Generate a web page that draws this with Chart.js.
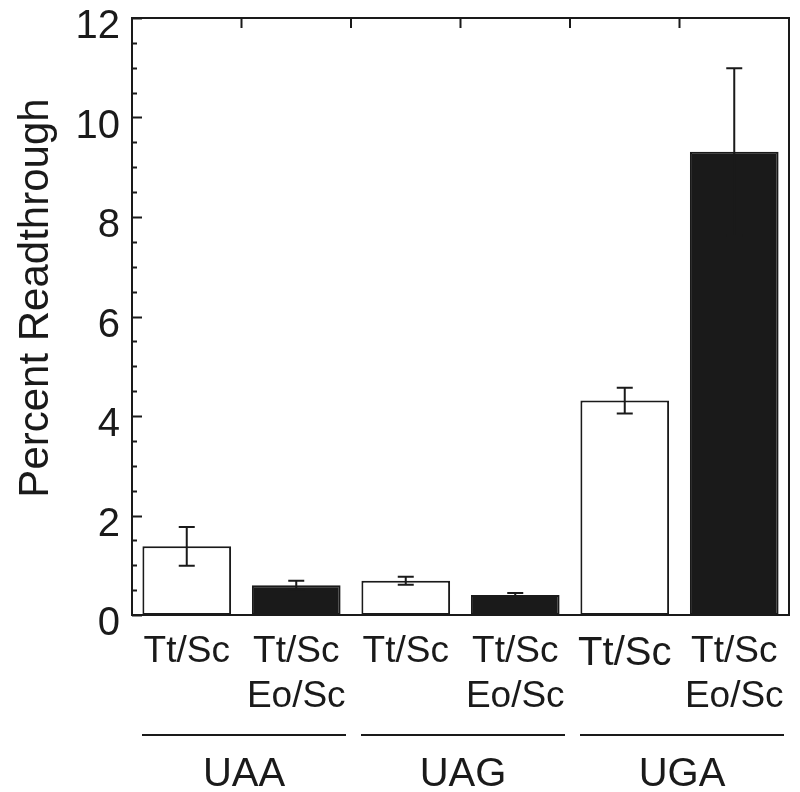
<!DOCTYPE html>
<html>
<head>
<meta charset="utf-8">
<script src="https://cdn.jsdelivr.net/npm/chart.js@4.4.1/dist/chart.umd.min.js"></script>
<style>
  html, body { margin: 0; padding: 0; background: #fff; }
  #wrap { width: 800px; height: 792px; position: relative; }
</style>
</head>
<body>
<div id="wrap"><canvas id="readthroughChart"></canvas></div>
<script>
// Percent readthrough per stop codon, Tt/Sc vs Tt/Sc Eo/Sc
const categories = [['Tt/Sc'], ['Tt/Sc', 'Eo/Sc'], ['Tt/Sc'], ['Tt/Sc', 'Eo/Sc'], ['Tt/Sc'], ['Tt/Sc', 'Eo/Sc']];
const readthrough = [1.38, 0.60, 0.69, 0.40, 4.31, 9.31];
const errorHigh = [0.39, 0.09, 0.08, 0.04, 0.26, 1.68];
const errorLow = [0.39, 0.09, 0.08, 0.04, 0.26, 1.68];
const barFill = ['#ffffff', '#1a1a1a', '#ffffff', '#1a1a1a', '#ffffff', '#1a1a1a'];
const codonGroups = ['UAA', 'UAG', 'UGA'];
const yTicks = [0, 2, 4, 6, 8, 10, 12];
const yTitle = 'Percent Readthrough';

const fontFamily = '"Liberation Sans", Arial, Helvetica, sans-serif';

// frame, inward ticks, error bars, axis title and codon group labels
const decorations = {
  id: 'decorations',
  afterDatasetsDraw(chart) {
    const ctx = chart.ctx;
    const area = chart.chartArea;
    const x = chart.scales.x;
    const y = chart.scales.y;
    ctx.save();
    ctx.strokeStyle = '#1a1a1a';
    ctx.fillStyle = '#1a1a1a';
    ctx.lineWidth = 2;

    // error bars
    readthrough.forEach((v, i) => {
      const cx = x.getPixelForValue(i);
      const top = y.getPixelForValue(v + errorHigh[i]);
      const bot = y.getPixelForValue(v - errorLow[i]);
      ctx.beginPath();
      ctx.moveTo(cx, top); ctx.lineTo(cx, bot);
      ctx.moveTo(cx - 8, top); ctx.lineTo(cx + 8, top);
      ctx.moveTo(cx - 8, bot); ctx.lineTo(cx + 8, bot);
      ctx.stroke();
    });

    // frame
    ctx.strokeRect(area.left, area.top, area.right - area.left, area.bottom - area.top);

    // y ticks, inward: majors and half-unit minors
    ctx.beginPath();
    for (let t = y.min; t <= y.max + 1e-9; t += 0.5) {
      const py = Math.round(y.getPixelForValue(t)) + 0.5;
      const major = yTicks.includes(t);
      ctx.moveTo(area.left, py);
      ctx.lineTo(area.left + (major ? 10 : 5), py);
    }
    // top ticks at category boundaries
    for (let i = 0; i < categories.length - 1; i++) {
      const px = (x.getPixelForValue(i) + x.getPixelForValue(i + 1)) / 2;
      ctx.moveTo(px, area.top);
      ctx.lineTo(px, area.top + 10);
    }
    ctx.stroke();

    // y axis title
    ctx.save();
    ctx.font = '42px ' + fontFamily;
    ctx.textAlign = 'center';
    ctx.textBaseline = 'alphabetic';
    ctx.translate(48, 298);
    ctx.rotate(-Math.PI / 2);
    ctx.fillText(yTitle, 0, 0);
    ctx.restore();

    // codon group underlines and names
    ctx.font = '40px ' + fontFamily;
    ctx.textAlign = 'center';
    ctx.textBaseline = 'middle';
    const step = x.getPixelForValue(1) - x.getPixelForValue(0);
    codonGroups.forEach((g, k) => {
      const left = x.getPixelForValue(2 * k) - step / 2 + 10;
      const right = x.getPixelForValue(2 * k + 1) + step / 2 - 5;
      ctx.beginPath();
      ctx.moveTo(left, 735);
      ctx.lineTo(right, 735);
      ctx.stroke();
      ctx.fillText(g, (left + right) / 2, 775);
    });
    ctx.restore();
  }
};

const ctx = document.getElementById('readthroughChart').getContext('2d');
new Chart(ctx, {
  type: 'bar',
  data: {
    labels: categories,
    datasets: [{
      data: readthrough,
      backgroundColor: barFill,
      borderColor: '#1a1a1a',
      borderWidth: 2,
      borderSkipped: false,
      barPercentage: 0.81,
      categoryPercentage: 1.0
    }]
  },
  options: {
    responsive: true,
    maintainAspectRatio: false,
    animation: false,
    events: [],
    layout: { padding: { top: 18, right: 11, left: 0, bottom: 0 } },
    plugins: {
      legend: { display: false },
      tooltip: { enabled: false },
      title: { display: false }
    },
    scales: {
      x: {
        border: { display: false },
        grid: { display: false },
        ticks: {
          color: '#1a1a1a',
          padding: 7,
          maxRotation: 0,
          autoSkip: false,
          font: c => ({ family: fontFamily, size: c.index === 4 ? 40 : 37, lineHeight: 1.2 })
        },
        afterFit(scale) { scale.height = 177; }
      },
      y: {
        min: 0,
        max: 12,
        border: { display: false },
        grid: { display: false },
        afterBuildTicks(scale) { scale.ticks = yTicks.map(v => ({ value: v })); },
        ticks: {
          color: '#1a1a1a',
          padding: 4,
          labelOffset: 9,
          font: { family: fontFamily, size: 40 }
        },
        afterFit(scale) {
          scale.width = 132;
          scale.paddingTop = 0;
          scale.paddingBottom = 0;
        }
      }
    }
  },
  plugins: [decorations]
});
</script>
</body>
</html>
